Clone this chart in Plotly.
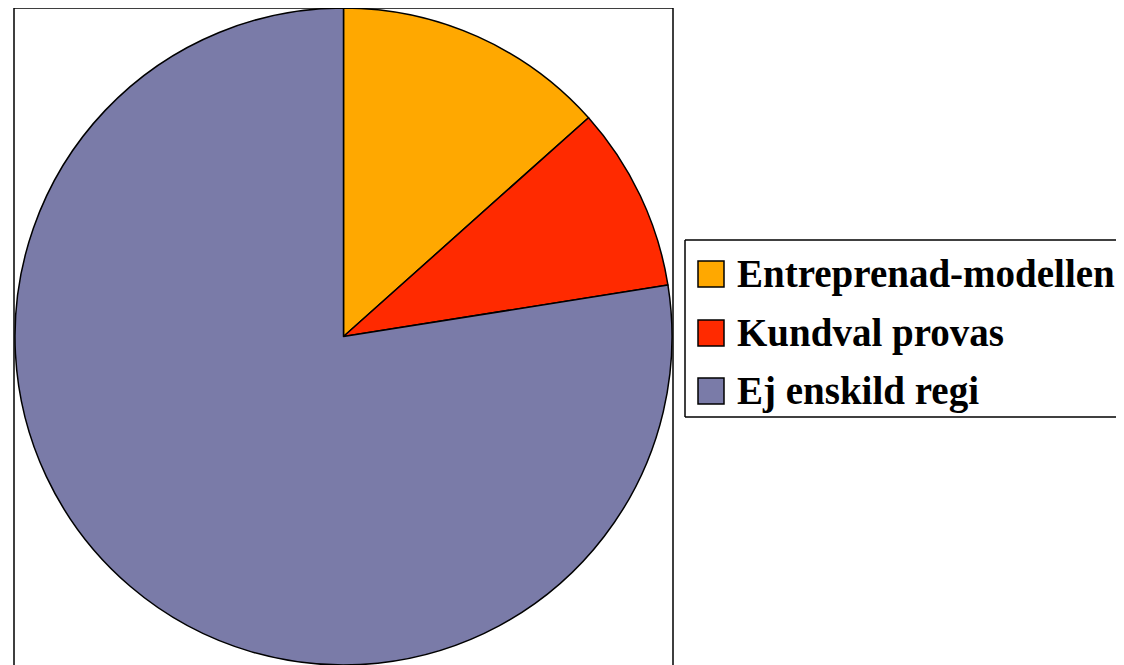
import plotly.graph_objects as go

labels = ["Entreprenad-modellen", "Kundval provas", "Ej enskild regi"]
values = [13.4, 9.1, 77.5]
colors = ["#FFA800", "#FF2A00", "#7A7BA8"]

W, H = 1116, 657
OFF = 8  # page body margin offset

def px(x):
    return (x - OFF) / W

def py(y):
    return 1 - (y - OFF) / H

fig = go.Figure()
fig.add_trace(go.Pie(
    labels=labels, values=values, sort=False, direction="clockwise", rotation=0,
    marker=dict(colors=colors, line=dict(color="black", width=1.5)),
    textinfo="none", hoverinfo="label+percent",
    domain=dict(x=[px(14), px(673)], y=[0, py(8)]),
    showlegend=False,
))

line = dict(color="black", width=1.5)
shapes = [
    dict(type="rect", xref="paper", yref="paper", x0=px(14), x1=px(673), y0=-0.1, y1=py(8),
         line=line, fillcolor="rgba(0,0,0,0)", layer="below"),
    # legend box (right side runs off the page)
    dict(type="line", xref="paper", yref="paper", x0=px(685), x1=px(1200), y0=py(240), y1=py(240), line=line),
    dict(type="line", xref="paper", yref="paper", x0=px(685), x1=px(1200), y0=py(417), y1=py(417), line=line),
    dict(type="line", xref="paper", yref="paper", x0=px(685), x1=px(685), y0=py(417), y1=py(240), line=line),
]
annotations = []
row_centers = [274, 333, 391]
for lab, col, yc in zip(labels, colors, row_centers):
    shapes.append(dict(type="rect", xref="paper", yref="paper", x0=px(698), x1=px(724),
                       y0=py(yc + 13), y1=py(yc - 13), line=line, fillcolor=col))
    annotations.append(dict(text="<b>" + lab + "</b>", xref="paper", yref="paper",
                            x=px(735), y=py(yc), xanchor="left", yanchor="middle",
                            showarrow=False,
                            font=dict(family="Liberation Serif", size=39, color="black")))

fig.update_layout(
    width=W, height=H, margin=dict(l=0, r=0, t=0, b=0),
    paper_bgcolor="white", plot_bgcolor="white",
    shapes=shapes, annotations=annotations,
)
fig.write_html("out.html")
